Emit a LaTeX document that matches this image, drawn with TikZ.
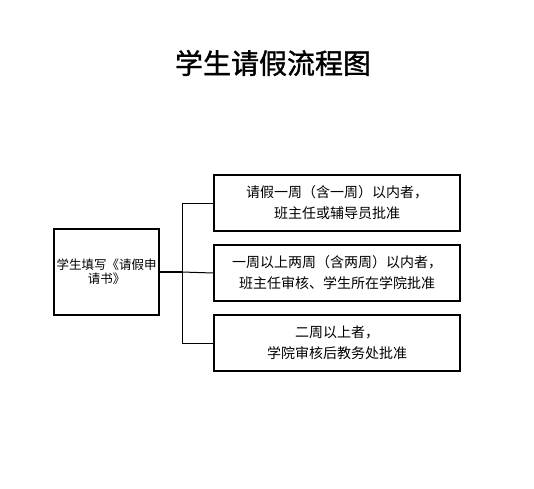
\documentclass[tikz,border=0pt]{standalone}
\usepackage{fontspec}
\setmainfont{Noto Sans CJK SC}
\newfontfamily\titlefont[FakeBold=1.2]{Noto Sans CJK SC}
\usetikzlibrary{positioning}

\begin{document}
\begin{tikzpicture}[x=1pt, y=-1pt,
    stepbox/.style={rectangle, draw=black, line width=1.4pt, minimum width=246pt, minimum height=56pt, inner sep=0pt, align=center, font=\fontsize{14}{21}\selectfont},
    startbox/.style={rectangle, draw=black, line width=1.4pt, minimum width=105pt, minimum height=86pt, inner sep=1pt, text width=103pt, align=center, font=\fontsize{12.5}{14}\selectfont},
]
    \useasboundingbox (0,0) rectangle (534,488);
    \node[font=\fontsize{28}{30}\titlefont] (title) at (273,63) {学生请假流程图};

    \node[startbox] (apply) at (106.5,272) {学生填写《请假申\\请书》};
    \node[stepbox] (r1) at (337,203) {请假一周（含一周）以内者，\\班主任或辅导员批准};
    \node[stepbox] (r2) at (337,273) {一周以上两周（含两周）以内者，\\班主任审核、学生所在学院批准};
    \node[stepbox] (r3) at (337,343) {二周以上者，\\学院审核后教务处批准};

    \coordinate (fork) at (182,272);
    \draw[line width=2pt] (apply.east) -- (fork);
    \draw[line width=1pt] (fork) |- (r1.west);
    \draw[line width=1pt] (fork) |- (r3.west);
    \draw[line width=1pt] (fork) -- (r2.west);
\end{tikzpicture}
\end{document}
